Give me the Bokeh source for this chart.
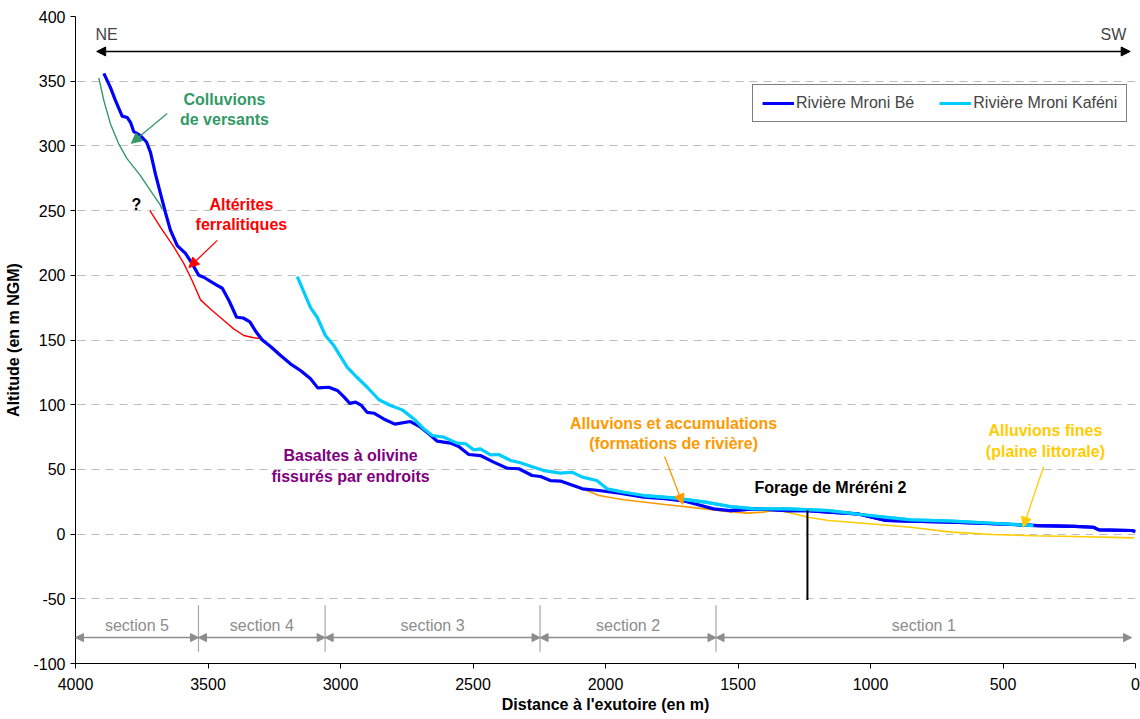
from bokeh.plotting import figure
from bokeh.models import (Range1d, Label, Arrow, NormalHead, Legend, LegendItem,
                          SingleIntervalTicker, PrintfTickFormatter)
from bokeh.embed import file_html
from bokeh.resources import INLINE

# ---------------- data ----------------
be_x = [3893, 3868, 3849, 3824, 3805, 3792, 3780, 3755, 3732, 3717, 3698, 3679, 3660, 3642,
        3616, 3585, 3560, 3535, 3516, 3472, 3446, 3421, 3392, 3367, 3342, 3321, 3295, 3264,
        3226, 3189, 3151, 3113, 3086, 3044, 3012, 2987, 2965, 2943, 2921, 2899, 2874, 2837,
        2795, 2736, 2698, 2667, 2635, 2585, 2554, 2516, 2472, 2422, 2371, 2327, 2277, 2245,
        2208, 2170, 2087, 2025, 1947, 1855, 1777, 1700, 1592, 1530, 1437, 1313, 1236, 1158,
        1050, 942, 849, 694, 539, 370, 230, 159, 138, 14, 0]
be_y = [356, 345, 335, 323, 322, 318, 311, 308, 303, 295, 278, 263, 248, 235,
        223, 217, 209, 200, 198.5, 193, 190, 180.5, 167.6, 167, 164, 157, 150, 145,
        138, 131.6, 126.4, 120, 113, 113.5, 111, 106, 101, 102, 99.4, 94, 93.4, 89,
        85, 87, 82.6, 77.5, 71.8, 70.3, 67.7, 61.5, 60.7, 55.6, 50.9, 50.5, 45.3, 44.5,
        41.4, 41, 35, 33.7, 31.6, 28.5, 27.3, 25.4, 19.5, 18.2, 19.5, 18.2, 18.2, 17,
        15.7, 10.5, 10, 9.2, 8, 6.6, 5.9, 5.3, 3.3, 2.8, 2]

kafeni_x = [3163, 3113, 3088, 3057, 3025, 3006, 2975, 2937, 2899, 2855, 2811, 2767, 2723,
            2686, 2654, 2610, 2560, 2528, 2497, 2472, 2434, 2403, 2358, 2321, 2271, 2233,
            2170, 2126, 2087, 2033, 1994, 1932, 1855, 1746, 1623, 1530, 1437, 1313, 1158,
            1004, 849, 694, 539, 385]
kafeni_y = [199, 175, 167.6, 153.5, 145.7, 139.3, 129, 121, 113.5, 103.8, 99.4, 96, 89,
            81.4, 76.2, 74.9, 70.3, 69.8, 65.1, 65.9, 61.3, 61.5, 56.9, 55.1, 51.7, 49.1,
            47.1, 47.8, 44, 41.4, 35, 32.4, 29.8, 28, 24.7, 21.3, 19.5, 19.5, 18.2,
            14.4, 11, 10, 8.4, 6.6]

colluvions_x = [3912, 3893, 3868, 3837, 3805, 3755, 3717, 3679, 3673]
colluvions_y = [352.6, 335, 317, 301.6, 290, 277, 265.5, 254, 251]

alterites_x = [3719, 3679, 3629, 3591, 3560, 3528, 3491, 3440, 3403, 3365, 3327, 3295]
alterites_y = [250, 237, 222, 209, 196, 181, 174, 165, 158.6, 153.5, 151.7, 151]

alluvions_x = [2172, 2087, 2025, 1932, 1777, 1623, 1545, 1468, 1406, 1343]
alluvions_y = [41.4, 35, 29.8, 26.5, 22.9, 19.5, 17.5, 16.2, 17, 19.5]

fines_x = [1375, 1313, 1236, 1158, 1004, 849, 694, 539, 385, 230, 6]
fines_y = [18.8, 17, 13, 10.5, 8, 5.3, 1.5, -0.3, -1.3, -1.8, -2.9]

forage_x = [1238, 1238]
forage_y = [-51, 18.5]

section_bounds = [4000, 3536, 3058, 2247, 1583, 15]
section_labels = ["section 5", "section 4", "section 3", "section 2", "section 1"]

series_names = ["Rivière Mroni Bé", "Rivière Mroni Kaféni"]

# ---------------- figure ----------------
FONT = "Liberation Sans"
FS = "16px"
p = figure(width=1140, height=719, output_backend="svg", toolbar_location=None,
           x_range=Range1d(4000, 0), y_range=Range1d(-100, 400),
           min_border_left=75, min_border_right=5, min_border_top=16, min_border_bottom=56)
p.outline_line_color = None
p.background_fill_color = "white"

p.xaxis.ticker = SingleIntervalTicker(interval=500)
p.yaxis.ticker = SingleIntervalTicker(interval=50)
p.xaxis.formatter = PrintfTickFormatter(format="%d")
p.yaxis.formatter = PrintfTickFormatter(format="%d")
for ax in (p.xaxis[0], p.yaxis[0]):
    ax.axis_line_color = "black"
    ax.major_tick_line_color = "black"
    ax.minor_tick_line_color = None
    ax.major_tick_in = 0
    ax.major_tick_out = 5
    ax.major_label_text_font = FONT
    ax.major_label_text_font_size = FS
    ax.major_label_text_color = "black"
    ax.axis_label_text_font = FONT
    ax.axis_label_text_font_size = FS
    ax.axis_label_text_font_style = "bold"
    ax.axis_label_text_color = "black"
p.xaxis.axis_label = "Distance à l'exutoire (en m)"
p.yaxis.axis_label = "Altitude (en m NGM)"
p.xaxis.major_label_standoff = 9
p.xaxis.axis_label_standoff = 3
p.yaxis.major_label_standoff = 5
p.yaxis.axis_label_standoff = 8

p.xgrid.grid_line_color = None
p.ygrid.grid_line_color = "#BDBDBD"
p.ygrid.grid_line_dash = "8 6"
p.ygrid.grid_line_width = 1

# geology lines
p.line(colluvions_x, colluvions_y, line_color="#339966", line_width=1.4)
p.line(alterites_x, alterites_y, line_color="#FF0000", line_width=1.4)
p.line(alluvions_x, alluvions_y, line_color="#FF9900", line_width=1.6)
p.line(fines_x, fines_y, line_color="#FFCC00", line_width=1.6)

# rivers
r_be = p.line(be_x, be_y, line_color="#0000FF", line_width=3.2)
r_kaf = p.line(kafeni_x, kafeni_y, line_color="#00CCFF", line_width=3.2)
p.line(be_x[-16:], be_y[-16:], line_color="#0000FF", line_width=3.2)
p.line(kafeni_x[-12:], kafeni_y[-12:], line_color="#00CCFF", line_width=3.2)

# forage
p.line(forage_x, forage_y, line_color="black", line_width=2)

# legend
legend = Legend(items=[LegendItem(label=series_names[0], renderers=[r_be]),
                       LegendItem(label=series_names[1], renderers=[r_kaf])],
                orientation="horizontal", location=(677, 541),
                label_text_font=FONT, label_text_font_size=FS,
                label_standoff=2, glyph_width=32, glyph_height=16, spacing=25,
                padding=9, margin=0, border_line_color="black", border_line_width=1,
                background_fill_alpha=1)
p.add_layout(legend, "center")

# NE-SW arrow
p.add_layout(Arrow(x_start=3920, y_start=373, x_end=20, y_end=373,
                   start=NormalHead(size=9, fill_color="black", line_color="black"),
                   end=NormalHead(size=9, fill_color="black", line_color="black"),
                   line_color="black", line_width=1.5))
p.add_layout(Label(x=3883, y=386, text="NE", text_font=FONT, text_font_size=FS,
                   text_align="center", text_baseline="middle"))
p.add_layout(Label(x=83, y=386, text="SW", text_font=FONT, text_font_size=FS,
                   text_align="center", text_baseline="middle"))

# sections
GRAY = "#8C8C8C"
for i, lab in enumerate(section_labels):
    a, b = section_bounds[i], section_bounds[i + 1]
    p.add_layout(Arrow(x_start=a, y_start=-80, x_end=b, y_end=-80,
                       start=NormalHead(size=8, fill_color=GRAY, line_color=GRAY),
                       end=NormalHead(size=8, fill_color=GRAY, line_color=GRAY),
                       line_color=GRAY, line_width=1.5))
    p.add_layout(Label(x=(a + b) / 2, y=-70.5, text=lab, text_font=FONT,
                       text_font_size=FS, text_color=GRAY,
                       text_align="center", text_baseline="middle"))
for xb in section_bounds[1:-1]:
    p.line([xb, xb], [-55, -91], line_color="#A6A6A6", line_width=1.2)

# annotations
annotations = [
    (["Colluvions", "de versants"], 3438, [336, 320.5], "#339966"),
    (["Altérites", "ferralitiques"], 3374, [254.7, 239.2], "#FF0000"),
    (["Basaltes à olivine", "fissurés par endroits"], 2962, [60.7, 44.5], "#800080"),
    (["Alluvions et accumulations", "(formations de rivière)"], 1743, [85.5, 70], "#FF9900"),
    (["Alluvions fines", "(plaine littorale)"], 340, [80, 63.6], "#FFCC00"),
    (["Forage de Mréréni 2"], 1151, [36], "black"),
    (["?"], 3770, [254.7], "black"),
]
for lines, x, ys, col in annotations:
    for t, y in zip(lines, ys):
        p.add_layout(Label(x=x, y=y, text=t, text_font=FONT, text_font_size=FS,
                           text_font_style="bold", text_color=col,
                           text_align="center", text_baseline="middle"))

pointers = [
    (3654, 325, 3789, 302, "#339966"),
    (3465, 227, 3572, 206, "#FF0000"),
    (1777, 60, 1708, 23, "#FF9900"),
    (347, 52, 424, 5.3, "#FFCC00"),
]
for xs, ys, xe, ye, col in pointers:
    p.add_layout(Arrow(x_start=xs, y_start=ys, x_end=xe, y_end=ye,
                       end=NormalHead(size=10, fill_color=col, line_color=col),
                       line_color=col, line_width=1.3))

open("out.html", "w").write(file_html(p, INLINE))
